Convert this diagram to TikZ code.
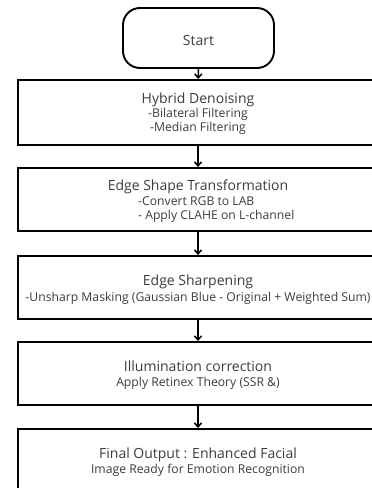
\documentclass[tikz,border=0pt]{standalone}
\usepackage{fontspec}
\setmainfont{Open Sans}
\usetikzlibrary{arrows.meta}
\definecolor{txt}{HTML}{3C3C3C}
\tikzset{
  x=1pt, y=-1pt,
  flowbox/.style={draw=black, line width=1.9pt, minimum width=360pt, inner sep=0pt},
  startbox/.style={draw=black, line width=1.9pt, rounded corners=17pt, minimum width=151pt, minimum height=60pt, inner sep=0pt},
  title/.style={text=txt, font=\fontsize{14}{16}\selectfont, anchor=base, inner sep=0pt},
  sub/.style={text=txt, font=\fontsize{12.2}{14}\selectfont, anchor=base, inner sep=0pt},
  conn/.style={line width=1.5pt, -{Straight Barb[length=4pt,width=7pt,line width=1.5pt]}}
}
\begin{document}
\begin{tikzpicture}
\useasboundingbox (0,0) rectangle (372,488);
\clip (0,0) rectangle (372,488);
\node[startbox] (start) at (198.5,38) {};
\node[flowbox, minimum height=65pt] (b1) at (198,112.5) {};
\node[flowbox, minimum height=63pt] (b2) at (198,199.5) {};
\node[flowbox, minimum height=63pt] (b3) at (198,287.5) {};
\node[flowbox, minimum height=63pt] (b4) at (198,373.5) {};
\node[flowbox, minimum height=70pt] (b5) at (198,464) {};

\node[title] (t0) at (198.5,45.7) {Start};

\node[title] (t1) at (198,103.3) {Hybrid Denoising};
\node[sub] (s1a) at (198,117.3) {-Bilateral Filtering};
\node[sub] (s1b) at (198,131.7) {-Median Filtering};

\node[title] (t2) at (198,190.3) {Edge Shape Transformation};
\node[sub, anchor=base west] (s2a) at (138,205.3) {-Convert RGB to LAB};
\node[sub, anchor=base west] (s2b) at (138,219.7) {- Apply CLAHE on L-channel};

\node[title] (t3) at (198,285) {Edge Sharpening};
\node[sub] (s3a) at (198,301) {-Unsharp Masking (Gaussian Blue - Original + Weighted Sum)};

\node[title] (t4) at (198,371.7) {Illumination correction};
\node[sub] (s4a) at (198,386.7) {Apply Retinex Theory (SSR \&)};

\node[title] (t5) at (198,458.3) {Final Output : Enhanced Facial};
\node[sub] (s5a) at (198,473.3) {Image Ready for Emotion Recognition};

\draw[conn] (start) -- (b1);
\draw[conn] (b1) -- (b2);
\draw[conn] (b2) -- (b3);
\draw[conn] (b3) -- (b4);
\draw[conn] (b4) -- (b5);
\end{tikzpicture}
\end{document}
